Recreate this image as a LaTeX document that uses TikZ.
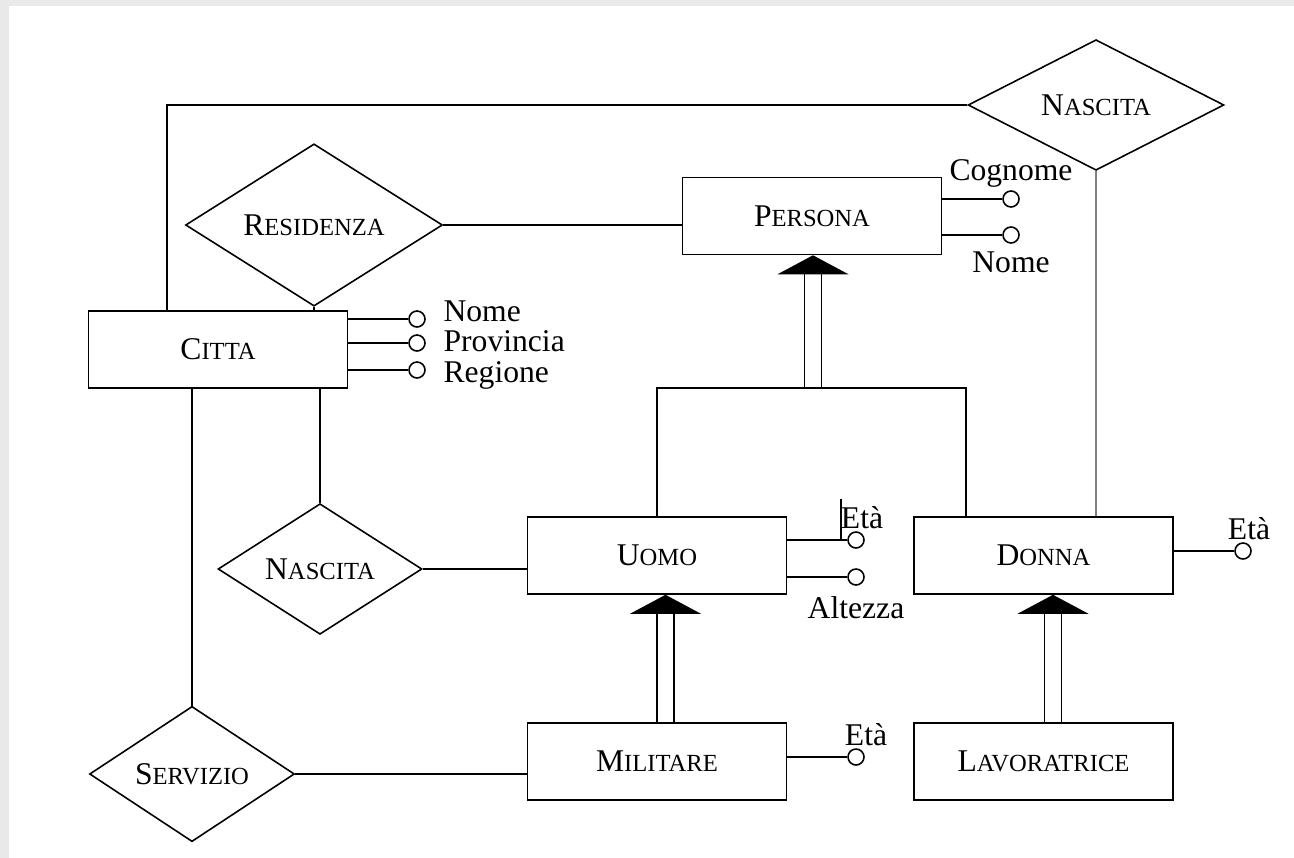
\documentclass[tikz,border=0pt]{standalone}
\usepackage{fontspec}
\setmainfont{Liberation Serif}
\usetikzlibrary{shapes.geometric,calc}
\definecolor{bggray}{HTML}{E9E9E9}
\newcommand{\fsc}[2]{#1{\fontsize{14}{16}\selectfont#2}}
\tikzset{ent/.style={draw,rectangle,minimum width=5.18cm,minimum height=1.54cm,inner sep=0pt,font=\fontsize{18}{21}\selectfont},
rel/.style={draw,diamond,inner sep=0pt,font=\fontsize{18}{21}\selectfont},
attr/.style={draw,circle,fill=white,minimum size=0.32cm,inner sep=0pt},
lbl/.style={font=\fontsize{18}{21}\selectfont,inner sep=1pt},
tightlbl/.style={lbl,inner sep=0pt,text height=1.5ex,text depth=0pt}}

\begin{document}
\begin{tikzpicture}[x=0.02cm,y=-0.02cm,line width=0.9pt]
\fill[bggray] (0,0) rectangle (1294,858);
\fill[white] (9,6) rectangle (1294,858);

% entities
\node[ent] (persona) at (812,216) {\fsc{P}{ERSONA}};
\node[ent] (citta) at (218,349.5) {\fsc{C}{ITTA}};
\node[ent] (uomo) at (657,555.5) {\fsc{U}{OMO}};
\node[ent] (donna) at (1043.5,555.5) {\fsc{D}{ONNA}};
\node[ent] (militare) at (657,761.5) {\fsc{M}{ILITARE}};
\node[ent] (lavoratrice) at (1043.5,761.5) {\fsc{L}{AVORATRICE}};

% relationships
\node[rel,minimum width=5.12cm,minimum height=2.06cm] (nasc1) at (1096,105) {\fsc{N}{ASCITA}};
\node[rel,minimum width=5.14cm,minimum height=2.04cm] (res) at (314,225) {\fsc{R}{ESIDENZA}};
\node[rel,minimum width=4.08cm,minimum height=2.08cm] (nasc2) at (320,569) {\fsc{N}{ASCITA}};
\node[rel,minimum width=4.1cm,minimum height=2.06cm] (serv) at (192,774) {\fsc{S}{ERVIZIO}};

\draw (nasc1.west) -| ([xshift=-1.02cm]citta.north);
\draw[gray] (nasc1.south) -- (nasc1.south |- donna.north);
\draw (res.east) -- (res.east -| persona.west);
\draw (res.south) -- (res.south |- citta.north);
\draw (nasc2.north) -- (nasc2.north |- citta.south);
\draw (nasc2.east) -- (nasc2.east -| uomo.west);
\draw (serv.north) -- (serv.north |- citta.south);
\draw (serv.east) -- (serv.east -| militare.west);

% generalizations
\coordinate (isa1) at (813,388);
\coordinate (isa2) at ([xshift=0.17cm]militare.north);
\coordinate (isa3) at ([xshift=0.19cm]lavoratrice.north);
\draw (uomo.north) |- (isa1) -| ([xshift=-1.55cm]donna.north);
\foreach \s/\e in {isa1/persona,isa2/uomo,isa3/donna}{
  \draw ([xshift=-0.17cm]\s) -- ([xshift=-0.17cm,yshift=-0.38cm]\s |- \e.south)
        ([xshift=0.17cm]\s) -- ([xshift=0.17cm,yshift=-0.38cm]\s |- \e.south);
  \fill (\s |- \e.south) -- ++(-35.5,19) -- ++(71,0) -- cycle;
}

% attributes
\node[attr,label={[lbl]above:Cognome}] (cog) at (1011,199) {};
\node[attr,label={[lbl,yshift=-0.1cm]below:Nome}] (pnome) at (1011,235) {};
\draw (cog) -- (cog -| persona.east) (pnome) -- (pnome -| persona.east);

\foreach \n/\y/\d/\t in {cnome/319/0.08/Nome,cprov/343/-0.04/Provincia,creg/370/-0.13/Regione}{
  \node[attr,label={[tightlbl,xshift=0.34cm,yshift=\d cm]right:\t}] (\n) at (417,\y) {};
  \draw (\n) -- (\n -| citta.east);
}

\node[attr,label={[lbl,xshift=0.12cm]above:Età}] (ueta) at (856,540) {};
\node[attr,label={[lbl,yshift=-0.16cm]below:Altezza}] (ualt) at (856,577) {};
\draw (ueta) -- (ueta -| uomo.east) (ualt) -- (ualt -| uomo.east);
\draw ([xshift=-0.3cm]ueta.center) -- ++(0,-41);

\node[attr,label={[lbl,xshift=0.12cm]above:Età}] (deta) at (1243,551) {};
\draw (deta) -- (deta -| donna.east);

\node[attr,label={[lbl,xshift=0.2cm]above:Età}] (meta) at (856,757) {};
\draw (meta) -- (meta -| militare.east);
\end{tikzpicture}
\end{document}
